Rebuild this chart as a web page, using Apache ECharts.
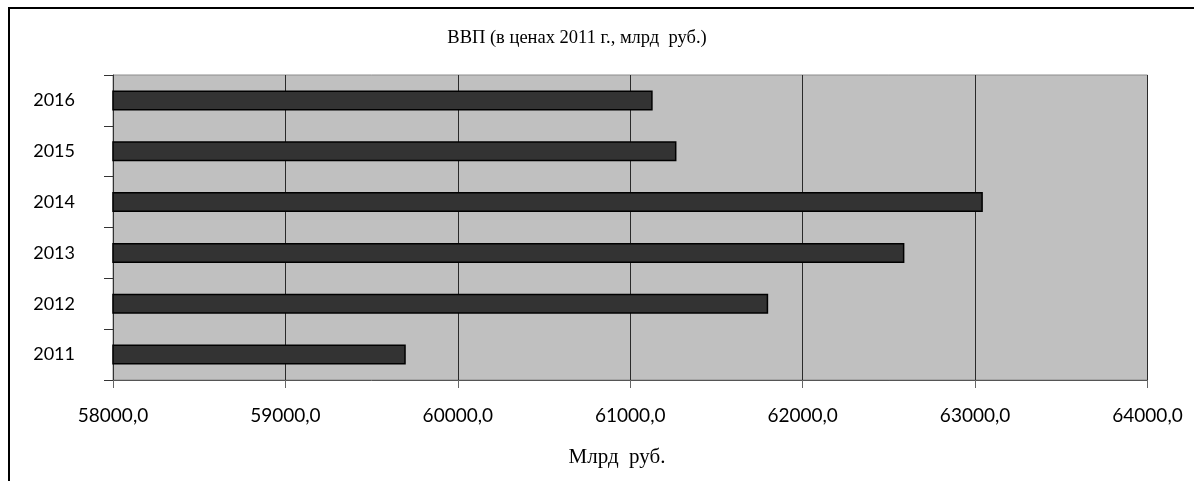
<!DOCTYPE html>
<html>
<head>
<meta charset="utf-8">
<script src="https://cdn.jsdelivr.net/npm/echarts@6/dist/echarts.min.js"></script>
<style>
  html, body { margin: 0; padding: 0; background: #fff; }
  #chart { width: 1194px; height: 481px; }
</style>
</head>
<body>
<div id="chart"></div>
<script>
const titleText = 'ВВП (в ценах 2011 г., млрд  руб.)';
const axisNameText = 'Млрд  руб.';
const years = ['2011', '2012', '2013', '2014', '2015', '2016'];
const gdp = [59698, 61800, 62590, 63045, 61268, 61130];
const xMin = 58000;
const xMax = 64000;
const xStep = 1000;

const chart = echarts.init(document.getElementById('chart'), null, { renderer: 'canvas' });
chart.setOption({
  animation: false,
  backgroundColor: '#ffffff',
  grid: {
    left: 113, top: 75, right: 46.5, bottom: 101,
    show: true, backgroundColor: '#c0c0c0', borderColor: '#8c8c8c', borderWidth: 1
  },
  graphic: [
    { type: 'polyline', silent: true, z: 100,
      shape: { points: [[9, 481], [9, 8], [1194, 8]] },
      style: { stroke: '#000', lineWidth: 2, fill: null } },
    { type: 'text', silent: true, z: 100,
      style: { x: 577, y: 38, text: titleText, textAlign: 'center', textVerticalAlign: 'middle',
        font: '18.5px "Liberation Serif", "Times New Roman", serif', fill: '#000' } },
    { type: 'text', silent: true, z: 100,
      style: { x: 617, y: 457, text: axisNameText, textAlign: 'center', textVerticalAlign: 'middle',
        font: '21px "Liberation Serif", "Times New Roman", serif', fill: '#000' } }
  ],
  xAxis: {
    type: 'value', min: xMin, max: xMax, interval: xStep,
    axisLine: { show: true, lineStyle: { color: '#555', width: 1 } },
    axisTick: { show: true, length: 8, lineStyle: { color: '#666' } },
    axisLabel: { margin: 26, fontFamily: 'Lato', fontSize: 19, color: '#000',
      formatter: v => v.toFixed(1).replace('.', ',') },
    splitLine: { show: true, lineStyle: { color: '#2a2a2a', width: 1 } }
  },
  yAxis: {
    type: 'category', data: years,
    axisLine: { show: true, lineStyle: { color: '#333', width: 1 } },
    axisTick: { show: true, length: 9, alignWithLabel: false, lineStyle: { color: '#333' } },
    axisLabel: { margin: 38, fontFamily: 'Lato', fontSize: 18, color: '#000' },
    splitLine: { show: false }
  },
  series: [{
    type: 'bar', data: gdp, barWidth: 20,
    itemStyle: { color: '#333333', borderColor: '#000', borderWidth: 1.5 }
  }]
});
</script>
</body>
</html>
